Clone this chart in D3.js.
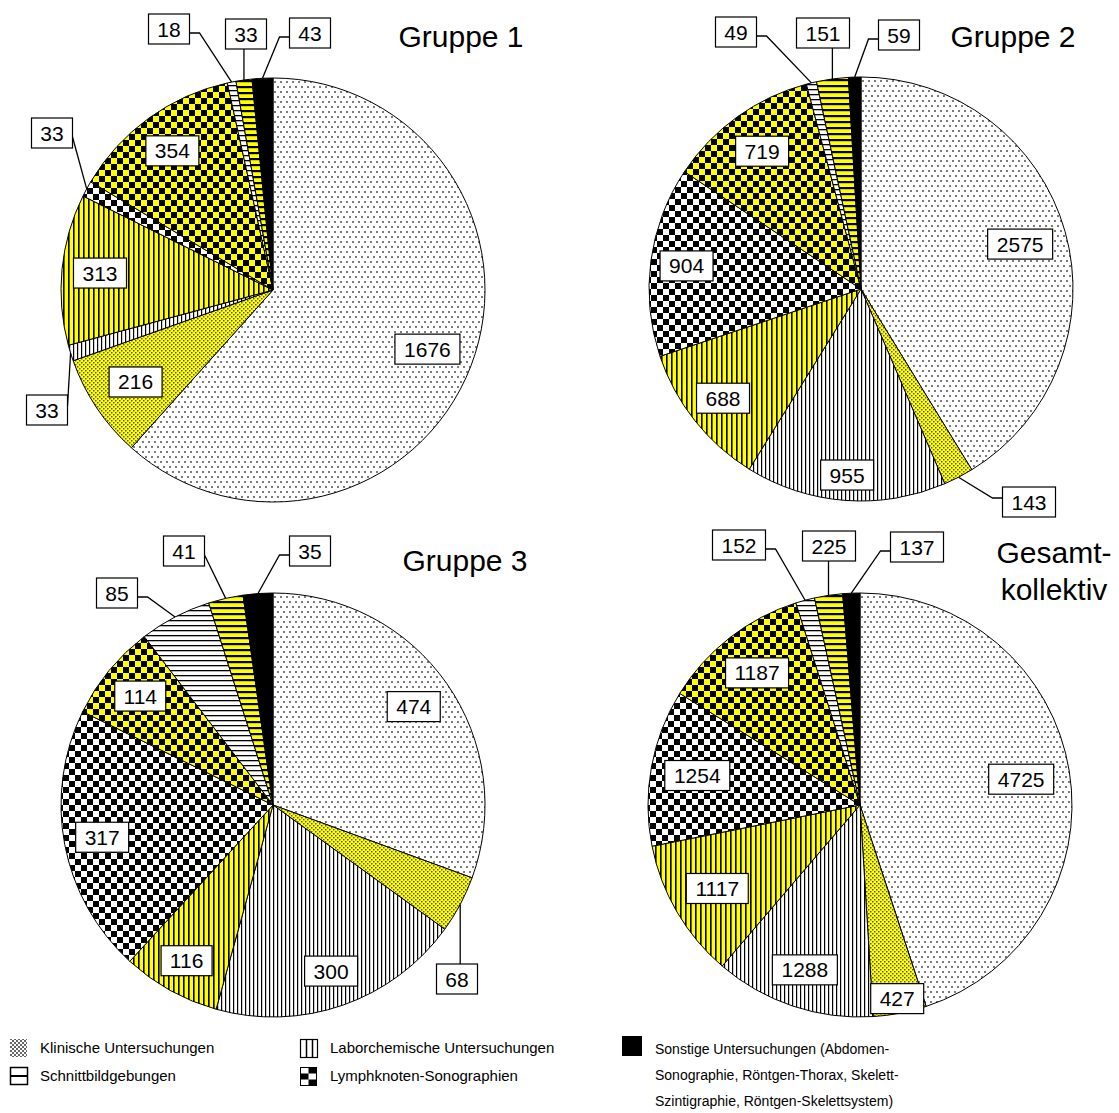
<!DOCTYPE html>
<html><head><meta charset="utf-8">
<script src="https://cdn.jsdelivr.net/npm/d3@7"></script>
<style>
body{margin:0;background:#fff}
svg{display:block}
text{font-family:"Liberation Sans",Arial,Helvetica,sans-serif;fill:#000}
</style>
</head><body>
<svg id="c" width="1119" height="1113"></svg>
<script>
// ---------------- DATA ----------------
const sliceKeys = ["klin","klinY","labor","laborY","lymph","lymphY","schnitt","schnittY","sonst"];
const groupTitles = [["Gruppe 1"],["Gruppe 2"],["Gruppe 3"],["Gesamt-","kollektiv"]];
const gruppe1 = [1676, 216, 33, 313, 33, 354, 18, 33, 43];
const gruppe2 = [2575, 143, 955, 688, 904, 719, 49, 151, 59];
const gruppe3 = [474, 68, 300, 116, 317, 114, 85, 41, 35];
const gesamt  = [4725, 427, 1288, 1117, 1254, 1187, 152, 225, 137];
const seriesValues = [gruppe1, gruppe2, gruppe3, gesamt];
const legendKeys = ["klin","schnitt","labor","lymph","sonst"];
const legendLabels = [
  ["Klinische Untersuchungen"],
  ["Schnittbildgebungen"],
  ["Laborchemische Untersuchungen"],
  ["Lymphknoten-Sonographien"],
  ["Sonstige Untersuchungen (Abdomen-","Sonographie, Röntgen-Thorax, Skelett-","Szintigraphie, Röntgen-Skelettsystem)"]
];

// ---------------- LAYOUT ----------------
const W = 1119, H = 1113, R = 212;
const pieCenters = [[273,290],[861,289],[273,805],[860,805]];
const titlePos = [[461,47],[1013,47],[465,571],[1054,563]];
// inside labels: k = fraction of radius along mid angle; outside: offset from centre + leader style
const labelLayout = [
  [{k:.78},{k:.78},{dx:-226,dy:120,lead:"d"},{k:.82},{dx:-221,dy:-157,lead:"d"},{k:.81},{dx:-104,dy:-261,lead:"e"},{dx:-27,dy:-256,lead:"v"},{dx:37,dy:-257,lead:"e"}],
  [{k:.78},{dx:168,dy:213,lead:"e"},{k:.88},{k:.83},{k:.83},{k:.80},{dx:-125,dy:-257,lead:"e"},{dx:-38,dy:-256,lead:"v"},{dx:38,dy:-254,lead:"e"}],
  [{k:.81},{dx:184,dy:174,lead:"v"},{k:.83},{k:.84},{k:.82},{k:.81},{dx:-156,dy:-212,lead:"e"},{dx:-89,dy:-254,lead:"d"},{dx:37,dy:-254,lead:"e"}],
  [{k:.77},{k:.93},{k:.82},{k:.78},{k:.78},{k:.79},{dx:-121,dy:-260,lead:"e"},{dx:-31,dy:-259,lead:"v"},{dx:57,dy:-258,lead:"e"}]
];
const YEL = "#ffff00";

const svg = d3.select("#c");
svg.append("rect").attr("width",W).attr("height",H).attr("fill","#fff");
const defs = svg.append("defs");
function pat(id,w,h,bg,draw){
  const p = defs.append("pattern").attr("id",id).attr("patternUnits","userSpaceOnUse")
    .attr("width",w).attr("height",h);
  p.append("rect").attr("width",w).attr("height",h).attr("fill",bg);
  draw(p);
}
const sq = (p,x,y,w,h,c)=>p.append("rect").attr("x",x).attr("y",y).attr("width",w).attr("height",h).attr("fill",c);
pat("p-klin",6,10,"#fff",p=>{sq(p,1,1,2,2,"#7a7a7a");sq(p,4,6,2,2,"#7a7a7a");});
pat("p-klinY",4,4,YEL,p=>{sq(p,0,0,1.5,1.5,"#555");sq(p,2,2,1.5,1.5,"#555");});
pat("p-labor",4,4,"#fff",p=>{sq(p,0,0,1.2,4,"#000");});
pat("p-laborY",5,5,YEL,p=>{sq(p,0,0,1.6,5,"#000");});
pat("p-lymph",12,12,"#fff",p=>{sq(p,0,0,6,6,"#000");sq(p,6,6,6,6,"#000");});
pat("p-lymphY",12,12,YEL,p=>{sq(p,0,0,6,6,"#000");sq(p,6,6,6,6,"#000");});
pat("p-schnitt",5,5,"#fff",p=>{sq(p,0,0,5,1.3,"#000");});
pat("p-schnittY",6,6,YEL,p=>{sq(p,0,0,6,2.2,"#000");});
pat("p-sonst",4,4,"#000",p=>{});
pat("p-klinLeg",4,4,"#fff",p=>{sq(p,0,0,2,2,"#666");sq(p,2,2,2,2,"#666");});

const pie = d3.pie().sort(null).value(d=>d);
const arcGen = d3.arc().innerRadius(0).outerRadius(R);

seriesValues.forEach((vals,gi)=>{
  const [cx,cy] = pieCenters[gi];
  const g = svg.append("g").attr("transform",`translate(${cx},${cy})`);
  const arcs = pie(vals);
  g.selectAll("path.slice").data(arcs).join("path").attr("class","slice")
    .attr("d",arcGen).attr("fill",(d,i)=>`url(#p-${sliceKeys[i]})`)
    .attr("stroke","#000").attr("stroke-width",1).attr("stroke-linejoin","round");

  const lineG = g.append("g");
  const boxG = g.append("g");
  arcs.forEach((d,i)=>{
    const L = labelLayout[gi][i];
    const mid = (d.startAngle+d.endAngle)/2;
    let x,y;
    if(L.k!==undefined){ x = L.k*R*Math.sin(mid); y = -L.k*R*Math.cos(mid); }
    else { x = L.dx; y = L.dy; }
    const lg = boxG.append("g");
    const rect = lg.append("rect");
    const t = lg.append("text").attr("x",x).attr("y",y+7.5).attr("text-anchor","middle")
      .attr("font-size",21).text(d.data);
    const tw = t.node().getComputedTextLength();
    const bw = Math.round(tw+18), bh = 30;
    const left = x-bw/2, top = y-bh/2;
    rect.attr("x",left).attr("y",top).attr("width",bw).attr("height",bh)
      .attr("fill","#fff").attr("stroke","#000").attr("stroke-width",1.2);
    if(L.lead){
      const px = R*Math.sin(mid), py = -R*Math.cos(mid);
      let pts;
      if(L.lead==="v"){
        const vx = Math.max(left+3,Math.min(left+bw-3,px));
        pts = [[vx, py>y? top+bh : top],[px,py]];
      } else {
        const right = px>x;
        const sx = right? left+bw : left;
        const sy = y + (py>y? 4 : -4);
        pts = [[sx,sy]];
        if(L.lead==="e") pts.push([sx+(right?10:-10),sy]);
        pts.push([px,py]);
      }
      lineG.append("path").attr("d",d3.line()(pts)).attr("fill","none")
        .attr("stroke","#000").attr("stroke-width",1.3);
    }
  });
});

// titles
groupTitles.forEach((lines,gi)=>{
  const [tx,ty] = titlePos[gi];
  lines.forEach((s,li)=>{
    svg.append("text").attr("x",tx).attr("y",ty+li*37).attr("text-anchor","middle")
      .attr("font-size",30).text(s);
  });
});

// legend
const legPos = [[10,1039],[10,1067],[300,1039],[300,1067],[622,1036]];
const legG = svg.append("g");
legendKeys.forEach((k,i)=>{
  const [lx,ly] = legPos[i];
  const g = legG.append("g");
  if(k==="klin"){
    g.append("rect").attr("x",lx).attr("y",ly).attr("width",17).attr("height",18).attr("fill","url(#p-klinLeg)");
  } else if(k==="labor"){
    g.append("rect").attr("x",lx+0.5).attr("y",ly+0.5).attr("width",17).attr("height",18).attr("fill","#fff").attr("stroke","#000").attr("stroke-width",1.2);
    [6,12].forEach(o=>g.append("line").attr("x1",lx+0.5+o).attr("x2",lx+0.5+o).attr("y1",ly).attr("y2",ly+19).attr("stroke","#000").attr("stroke-width",1.5));
  } else if(k==="schnitt"){
    g.append("rect").attr("x",lx+0.5).attr("y",ly+0.5).attr("width",17).attr("height",17).attr("fill","#fff").attr("stroke","#000").attr("stroke-width",1.5);
    g.append("line").attr("x1",lx).attr("x2",lx+18).attr("y1",ly+9).attr("y2",ly+9).attr("stroke","#000").attr("stroke-width",2);
  } else if(k==="lymph"){
    g.append("rect").attr("x",lx+0.5).attr("y",ly+0.5).attr("width",16).attr("height",18).attr("fill","#fff").attr("stroke","#000");
    [[1,0],[0,1],[1,2]].forEach(([c,r])=>g.append("rect").attr("x",lx+0.5+c*8).attr("y",ly+0.5+r*6).attr("width",8).attr("height",6).attr("fill","#000"));
  } else {
    g.append("rect").attr("x",lx).attr("y",ly).attr("width",20).attr("height",20).attr("fill","#000");
  }
  const tx = k==="sonst"? 655 : lx+30;
  legendLabels[i].forEach((s,li)=>{
    g.append("text").attr("x",tx).attr("y",(k==="sonst"?1054:ly+14)+li*26)
      .attr("font-size",k==="sonst"?14:15).text(s);
  });
});
</script>
</body></html>
